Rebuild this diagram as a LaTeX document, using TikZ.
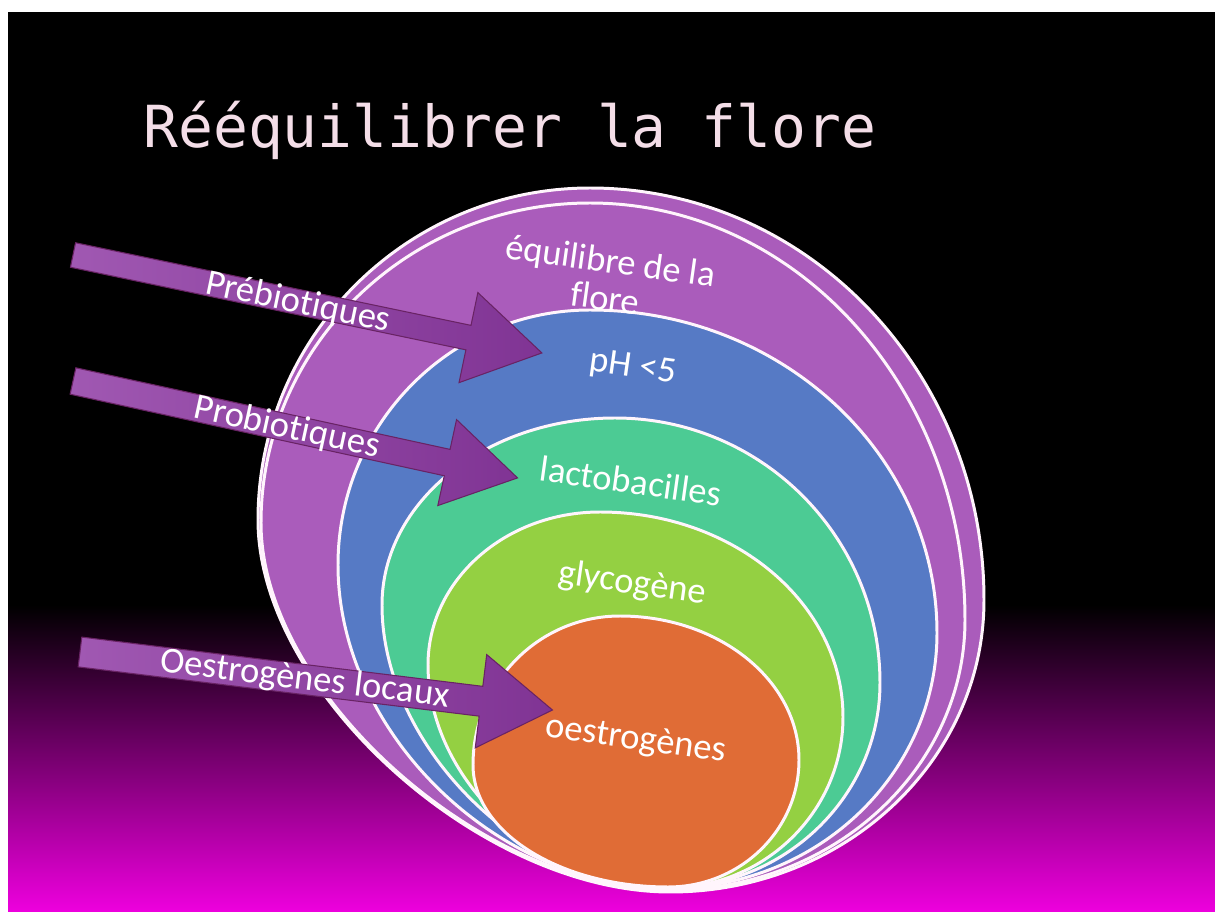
\documentclass[tikz,border=0pt]{standalone}
\usepackage{fontspec}
\setmainfont{Carlito}[Ligatures={NoCommon}]
\newfontfamily\titlefont{DejaVu Sans Mono}

\definecolor{magbot}{RGB}{238,0,222}
\definecolor{purp}{RGB}{170,92,187}
\definecolor{bluec}{RGB}{86,122,197}
\definecolor{tealc}{RGB}{76,203,148}
\definecolor{greenc}{RGB}{148,208,66}
\definecolor{orangec}{RGB}{224,108,54}
\definecolor{arrowL}{RGB}{160,88,178}
\definecolor{arrowR}{RGB}{128,52,148}
\definecolor{arrowedge}{RGB}{105,35,100}
\definecolor{titlec}{RGB}{244,222,232}
\definecolor{ringline}{RGB}{255,245,252}

% egg-like closed curve through leftmost, top, rightmost and bottom points;
% \kD sets the fullness of the lower-left quarter
\def\kD{0.5523}
\newcommand\eggshape[8]{(#1,#2) .. controls (#1,{#2+0.5523*(#4-#2)}) and ({#3+0.5523*(#1-#3)},#4) .. (#3,#4) .. controls ({#3+0.5523*(#5-#3)},#4) and (#5,{#6+0.5523*(#4-#6)}) .. (#5,#6) .. controls (#5,{#6+0.5523*(#8-#6)}) and ({#7+0.5523*(#5-#7)},#8) .. (#7,#8) .. controls ({#7+\kD*(#1-#7)},#8) and (#1,{#2+\kD*(#8-#2)}) .. (#1,#2) -- cycle}
% block arrow: length, shaft half width, head half width, head length
\newcommand\arrowpoly[4]{(0,-#2) -- ({#1-#4},-#2) -- ({#1-#4},-#3) -- (#1,0) -- ({#1-#4},#3) -- ({#1-#4},#2) -- (0,#2) -- cycle}

\begin{document}
\begin{tikzpicture}[x=0.02cm,y=-0.02cm,
  ring/.style={draw=ringline, line width=1.7pt},
  arrowbox/.style={draw=arrowedge, line width=0.6pt, left color=arrowL, right color=arrowR},
  lbl/.style={text=white, font=\fontsize{20.8}{21.5}\selectfont, inner sep=0pt, align=center}]
\useasboundingbox (0,0) rectangle (1215,912);
\fill[white] (0,0) rectangle (1215,912);
\fill[black] (8,12) rectangle (1215,606);
\shade[top color=black, bottom color=magbot] (8,605) rectangle (1215,912);

% nested rings
\def\kD{0.46}
\draw[ring, fill=purp]    \eggshape{258}{520}{590}{188}{984}{600}{670}{892};
\draw[ring, fill=purp]    \eggshape{261}{523}{590}{203}{965}{620}{670}{890};
\def\kD{0.52}
\draw[ring, fill=bluec]   \eggshape{338}{565}{590}{310}{937}{633}{670}{888};
\def\kD{0.5}
\draw[ring, fill=tealc]   \eggshape{382}{605}{615}{418}{880}{683}{668}{888};
\def\kD{0.52}
\draw[ring, fill=greenc]  \eggshape{428}{665}{600}{512}{843}{717}{668}{888};
\def\kD{0.5523}
\draw[ring, fill=orangec] \eggshape{473}{765}{620}{616}{799}{760}{668}{887};

% arrows
\begin{scope}[shift={(73,255)}, rotate=-11.8]
  \draw[arrowbox] \arrowpoly{479}{12.5}{46}{75};
\end{scope}
\begin{scope}[shift={(73,381)}, rotate=-12.3]
  \draw[arrowbox] \arrowpoly{455}{13.5}{44}{72};
\end{scope}
\begin{scope}[shift={(80,652)}, rotate=-7]
  \draw[arrowbox] \arrowpoly{476}{15}{47}{72};
\end{scope}

% title
\node[anchor=base west, inner sep=0pt, text=titlec, font=\titlefont\fontsize{33}{36}\selectfont] (title) at (143,148) {Rééquilibrer la flore};

% ring labels
\node[lbl, rotate=-8] (eq) at (608,279) {équilibre de la\\flore};
\node[lbl, rotate=-8] (ph) at (633,368) {pH <5};
\node[lbl, rotate=-8] (lacto) at (631,481) {lactobacilles};
\node[lbl, rotate=-8] (glyco) at (632,584) {glycogène};
\node[lbl, rotate=-8] (oestro) at (636,740) {oestrogènes};

% arrow labels
\node[lbl, rotate=-11.8] (pre) at (298,303) {Prébiotiques};
\node[lbl, rotate=-12.3] (pro) at (287,428) {Probiotiques};
\node[lbl, rotate=-7] (oeloc) at (305,680) {Oestrogènes locaux};
\end{tikzpicture}
\end{document}
